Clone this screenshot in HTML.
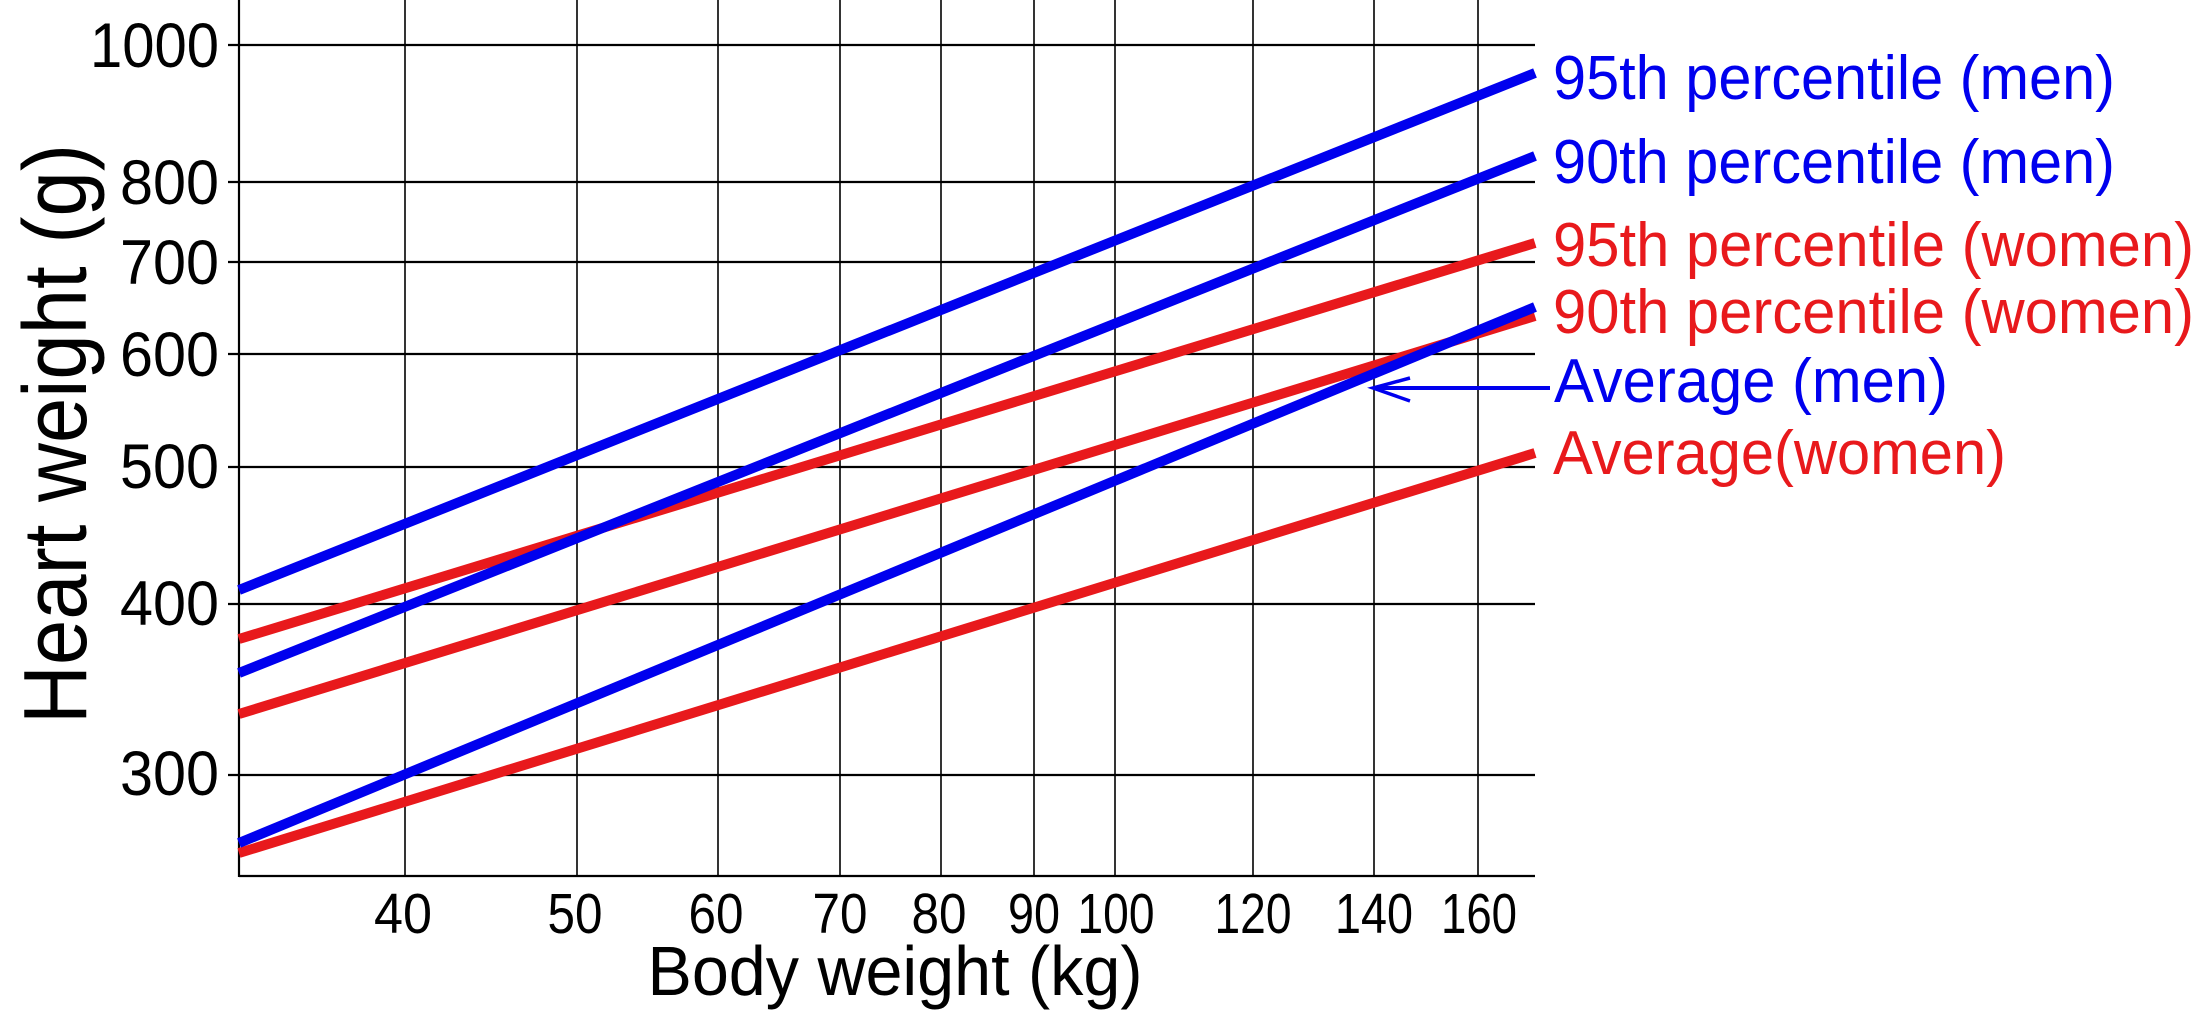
<!DOCTYPE html>
<html><head><meta charset="utf-8"><style>html,body{margin:0;padding:0;background:#fff}svg{display:block}</style></head>
<body>
<svg width="2207" height="1029" viewBox="0 0 2207 1029" xmlns="http://www.w3.org/2000/svg" font-family="Liberation Sans, Arial, sans-serif">
<rect width="2207" height="1029" fill="#fff"/>
<g stroke="#000" stroke-width="1.6">
<line x1="405" y1="0" x2="405" y2="876"/>
<line x1="577" y1="0" x2="577" y2="876"/>
<line x1="718" y1="0" x2="718" y2="876"/>
<line x1="840" y1="0" x2="840" y2="876"/>
<line x1="941" y1="0" x2="941" y2="876"/>
<line x1="1034" y1="0" x2="1034" y2="876"/>
<line x1="1115" y1="0" x2="1115" y2="876"/>
<line x1="1253" y1="0" x2="1253" y2="876"/>
<line x1="1374" y1="0" x2="1374" y2="876"/>
<line x1="1478" y1="0" x2="1478" y2="876"/>
</g>
<g stroke="#000" stroke-width="2.2">
<line x1="228" y1="45" x2="1535" y2="45"/>
<line x1="228" y1="182" x2="1535" y2="182"/>
<line x1="228" y1="262" x2="1535" y2="262"/>
<line x1="228" y1="354" x2="1535" y2="354"/>
<line x1="228" y1="467" x2="1535" y2="467"/>
<line x1="228" y1="604" x2="1535" y2="604"/>
<line x1="228" y1="775" x2="1535" y2="775"/>
<line x1="239" y1="0" x2="239" y2="877"/>
<line x1="239" y1="876" x2="1535" y2="876"/>
</g>
<g stroke-width="10" stroke-linecap="butt">
<line x1="239" y1="590" x2="1535" y2="73" stroke="#0000ee"/>
<line x1="239" y1="639" x2="1535" y2="243" stroke="#e8191c"/>
<line x1="239" y1="673" x2="1535" y2="156" stroke="#0000ee"/>
<line x1="239" y1="714" x2="1535" y2="316" stroke="#e8191c"/>
<line x1="239" y1="853" x2="1535" y2="453" stroke="#e8191c"/>
<line x1="239" y1="843" x2="1535" y2="307" stroke="#0000ee"/>
</g>
<g stroke="#0000ee" stroke-width="4" fill="none">
<line x1="1376" y1="388" x2="1550" y2="388"/>
<polyline points="1410,378 1373,388 1410,401" stroke-width="3.5"/>
</g>
<g font-size="63" text-anchor="end" fill="#000" lengthAdjust="spacingAndGlyphs">
<text x="219" y="67" textLength="129" lengthAdjust="spacingAndGlyphs">1000</text>
<text x="219" y="204" textLength="99" lengthAdjust="spacingAndGlyphs">800</text>
<text x="219" y="284" textLength="99" lengthAdjust="spacingAndGlyphs">700</text>
<text x="219" y="376" textLength="99" lengthAdjust="spacingAndGlyphs">600</text>
<text x="219" y="488" textLength="99" lengthAdjust="spacingAndGlyphs">500</text>
<text x="219" y="625" textLength="99" lengthAdjust="spacingAndGlyphs">400</text>
<text x="219" y="795" textLength="99" lengthAdjust="spacingAndGlyphs">300</text>
</g>
<g font-size="57" text-anchor="middle" fill="#000">
<text x="403" y="933" textLength="58" lengthAdjust="spacingAndGlyphs">40</text>
<text x="575" y="933" textLength="55" lengthAdjust="spacingAndGlyphs">50</text>
<text x="716" y="933" textLength="55" lengthAdjust="spacingAndGlyphs">60</text>
<text x="840" y="933" textLength="55" lengthAdjust="spacingAndGlyphs">70</text>
<text x="939" y="933" textLength="55" lengthAdjust="spacingAndGlyphs">80</text>
<text x="1034" y="933" textLength="52" lengthAdjust="spacingAndGlyphs">90</text>
<text x="1116" y="933" textLength="77" lengthAdjust="spacingAndGlyphs">100</text>
<text x="1253" y="933" textLength="77" lengthAdjust="spacingAndGlyphs">120</text>
<text x="1374" y="933" textLength="78" lengthAdjust="spacingAndGlyphs">140</text>
<text x="1479" y="933" textLength="76" lengthAdjust="spacingAndGlyphs">160</text>
</g>
<text x="895" y="995" font-size="70" text-anchor="middle" textLength="495" lengthAdjust="spacingAndGlyphs">Body weight (kg)</text>
<text transform="translate(86,434) rotate(-90)" font-size="90" text-anchor="middle" textLength="580" lengthAdjust="spacingAndGlyphs">Heart weight (g)</text>
<g font-size="62">
<text x="1553" y="99" fill="#0000ee" textLength="562" lengthAdjust="spacingAndGlyphs">95th percentile (men)</text>
<text x="1553" y="183" fill="#0000ee" textLength="562" lengthAdjust="spacingAndGlyphs">90th percentile (men)</text>
<text x="1553" y="266" fill="#e8191c" textLength="641" lengthAdjust="spacingAndGlyphs">95th percentile (women)</text>
<text x="1553" y="333" fill="#e8191c" textLength="641" lengthAdjust="spacingAndGlyphs">90th percentile (women)</text>
<text x="1554" y="402" fill="#0000ee" textLength="394" lengthAdjust="spacingAndGlyphs">Average (men)</text>
<text x="1553" y="474" fill="#e8191c" textLength="453" lengthAdjust="spacingAndGlyphs">Average(women)</text>
</g>
</svg>
</body></html>
